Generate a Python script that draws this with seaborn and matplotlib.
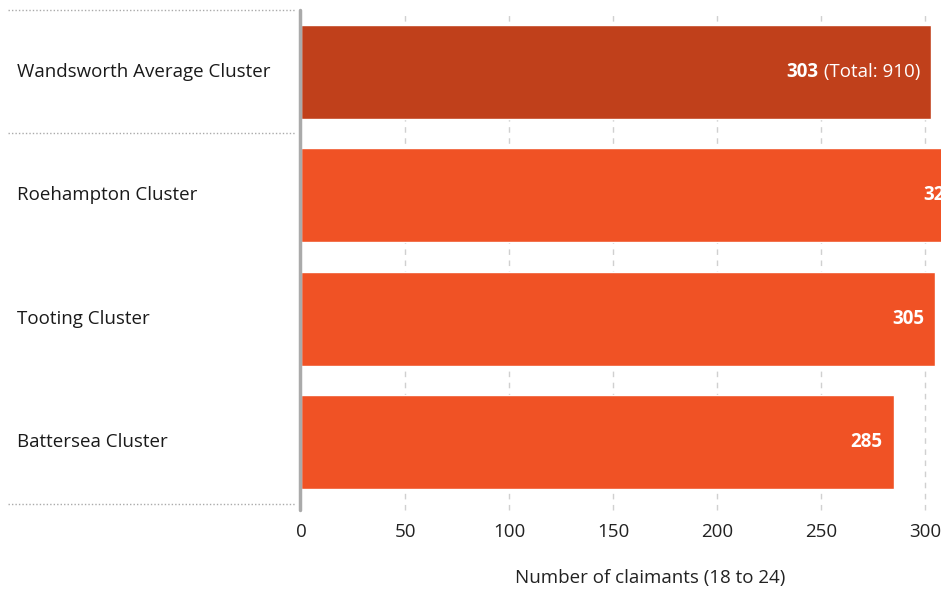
import matplotlib
matplotlib.use("Agg")
import matplotlib.pyplot as plt
from matplotlib.lines import Line2D
from matplotlib.transforms import blended_transform_factory, offset_copy
import pandas as pd
import seaborn as sns

# data
clusters = ["Wandsworth Average Cluster", "Roehampton Cluster",
            "Tooting Cluster", "Battersea Cluster"]
claimants = [303, 320, 305, 285]
average_total = 910
x_ticks = [0, 50, 100, 150, 200, 250, 300]
x_label = "Number of claimants (18 to 24)"

DARK = "#C0401B"
ORANGE = "#F05225"

sns.set_theme(style="white")
plt.rcParams["font.family"] = ["Open Sans", "DejaVu Sans"]
FS = 13.5

df = pd.DataFrame({"cluster": clusters, "value": claimants})
palette = {c: (DARK if i == 0 else ORANGE) for i, c in enumerate(clusters)}

W, H = 941, 592
fig = plt.figure(figsize=(W / 100, H / 100), dpi=100)
ax = fig.add_axes([301 / W, 88 / H, 640 / W, 494 / H])

sns.barplot(data=df, y="cluster", x="value", hue="cluster", palette=palette,
            order=clusters, orient="h", width=0.76, saturation=1,
            legend=False, ax=ax)

ax.set_xlim(0, 640 / 2.08)
ax.set_ylim(len(clusters) - 0.5, -0.5)
for s in ax.spines.values():
    s.set_visible(False)
ax.set_ylabel("")
ax.set_yticks([])
ax.set_xticks(x_ticks)
ax.set_xticklabels([str(t) for t in x_ticks], fontsize=FS, color="#222222")
ax.tick_params(axis="x", length=0, pad=14)
ax.set_xlabel(x_label, fontsize=FS, color="#222222")
ax.xaxis.label.set_va("center")
ax.xaxis.set_label_coords((650 - 301) / 640, -74 / 494)

# dashed vertical grid, drawn behind the bars, running a bit below the axes
for t in x_ticks[1:]:
    ax.axvline(t, ymin=-0.013, ymax=1, color="#d0d0d0", lw=1,
               ls=(0, (4, 4)), zorder=0, clip_on=False)

# left category labels
tr = blended_transform_factory(fig.transFigure, ax.transData)
for i, c in enumerate(clusters):
    ax.text(17 / W, i, c, transform=tr, ha="left", va="center",
            fontsize=FS, color="#1a1a1a", clip_on=False)

# dotted separators on the left and the grey axis line
for yp in [10, 133, 504]:
    fig.add_artist(Line2D([8 / W, 296 / W], [1 - yp / H, 1 - yp / H],
                          transform=fig.transFigure, color="#aaaaaa",
                          lw=1, ls=(0, (1, 1.5))))
fig.add_artist(Line2D([300 / W, 300 / W], [1 - 10 / H, 1 - 510 / H],
                      transform=fig.transFigure, color="#aaaaaa", lw=2.5))

# value labels inside the bars
for i, v in enumerate(claimants):
    t = offset_copy(ax.transData, fig=fig, x=-11, y=0, units="dots")
    if i == 0:
        rest = ax.text(v, i, " (Total: %d)" % average_total, transform=t,
                       ha="right", va="center", fontsize=FS, color="white")
        fig.canvas.draw()
        bb = rest.get_window_extent()
        x0 = ax.transData.inverted().transform((bb.x0, 0))[0]
        ax.text(x0, i, str(v), ha="right", va="center", fontsize=FS,
                fontweight="bold", color="white")
    else:
        ax.text(v, i, str(v), transform=t, ha="right", va="center",
                fontsize=FS, fontweight="bold", color="white")

fig.savefig("out.png", dpi=100)
